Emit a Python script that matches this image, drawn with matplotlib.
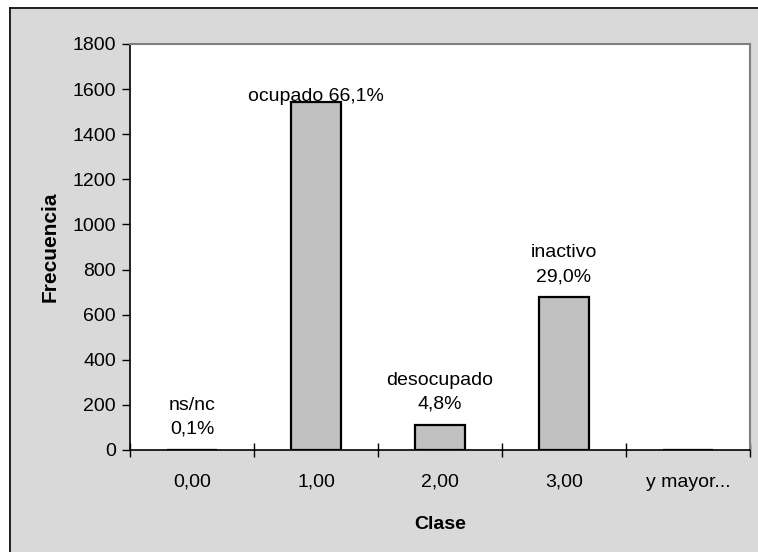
import matplotlib
matplotlib.use("Agg")
import matplotlib.pyplot as plt
from matplotlib.patches import Rectangle
from matplotlib.lines import Line2D

categories = ["0,00", "1,00", "2,00", "3,00", "y mayor..."]
frequencies = [2, 1545, 112, 678, 0]
bar_labels = ["ns/nc\n0,1%", "ocupado 66,1%", "desocupado\n4,8%", "inactivo\n29,0%", ""]
yticks = [0, 200, 400, 600, 800, 1000, 1200, 1400, 1600, 1800]

plt.rcParams["font.family"] = ["Liberation Sans", "DejaVu Sans"]
FS = 14

W, H = 758, 552
fig = plt.figure(figsize=(W / 100, H / 100), dpi=100, facecolor="white")

# chart area background (textured gray in original)
fig.add_artist(Rectangle((9 / W, 0), 1 - 9 / W, 1 - 7 / H, transform=fig.transFigure,
                         facecolor="#d9d9d9", edgecolor="none", zorder=0))
fig.add_artist(Line2D([9.5 / W, 9.5 / W], [0, 1 - 7.5 / H], transform=fig.transFigure,
                      color="black", lw=1.2))
fig.add_artist(Line2D([9.5 / W, 1], [1 - 7.5 / H, 1 - 7.5 / H], transform=fig.transFigure,
                      color="black", lw=1.2))

ax = fig.add_axes([130 / W, (H - 450) / H, 620 / W, 406 / H])
ax.set_facecolor("white")

x = list(range(len(categories)))
bars = ax.bar(x, frequencies, width=0.4, color="#c0c0c0", edgecolor="black", linewidth=1.6, zorder=3)

ax.set_xlim(-0.5, len(categories) - 0.5)
ax.set_ylim(0, 1800)
ax.set_yticks(yticks)
ax.set_yticklabels([str(v) for v in yticks], fontsize=FS)

ax.set_xticks(x)
ax.set_xticklabels(categories, fontsize=FS)
ax.tick_params(axis="x", which="major", length=0, pad=17)
ax.set_xticks([i - 0.5 for i in range(len(categories) + 1)], minor=True)
ax.tick_params(axis="x", which="minor", direction="inout", length=10, width=1, color="black")
ax.tick_params(axis="y", direction="out", length=6, width=1, pad=4)

for side in ["top", "right"]:
    ax.spines[side].set_color("#808080")
    ax.spines[side].set_linewidth(1.5)
for side in ["left", "bottom"]:
    ax.spines[side].set_color("black")
    ax.spines[side].set_linewidth(1.2)

for xi, v, lab in zip(x, frequencies, bar_labels):
    if not lab:
        continue
    if "\n" in lab:
        ax.annotate(lab, (xi, v), xytext=(0, 8.5), textcoords="offset points",
                    ha="center", va="bottom", fontsize=FS, linespacing=1.55, zorder=4)
    else:
        ax.annotate(lab, (xi, v), xytext=(0, 0.5), textcoords="offset points",
                    ha="center", va="baseline", fontsize=FS, zorder=4)

ax.set_ylabel("Frecuencia", fontsize=15, fontweight="bold", labelpad=9)
ax.set_xlabel("Clase", fontsize=FS, fontweight="bold", labelpad=18)

fig.savefig("out.png", dpi=100, facecolor="white")
